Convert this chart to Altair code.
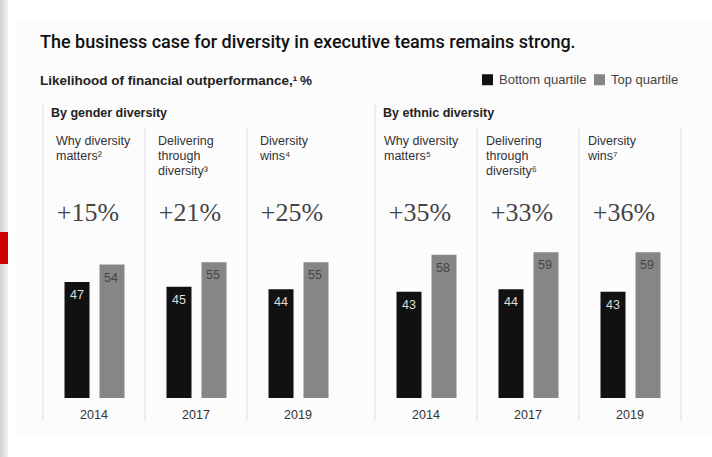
import altair as alt
import pandas as pd

# ---------------- data ----------------
group_names = ["By gender diversity", "By ethnic diversity"]
panel_group = [0, 0, 0, 1, 1, 1]
studies = [
    "Why diversity\nmatters²",
    "Delivering\nthrough\ndiversity³",
    "Diversity\nwins⁴",
    "Why diversity\nmatters⁵",
    "Delivering\nthrough\ndiversity⁶",
    "Diversity\nwins⁷",
]
years = ["2014", "2017", "2019", "2014", "2017", "2019"]
bottom_quartile = [47, 45, 44, 43, 44, 43]
top_quartile = [54, 55, 55, 58, 59, 59]
uplift = ["+15%", "+21%", "+25%", "+35%", "+33%", "+36%"]
series = ["Bottom quartile", "Top quartile"]

title = "The business case for diversity in executive teams remains strong."
subtitle = "Likelihood of financial outperformance,¹\u2009%"

# ---------------- layout helpers (panel units) ----------------
W, H = 712, 457
PANEL_PX = 102.0
LEFT_PX = 43.0
group_start = [0.0, (375.0 - LEFT_PX) / PANEL_PX]

SANS = "Liberation Sans"
SERIF = "Liberation Serif"

rows = []
for i in range(6):
    g = panel_group[i]
    k = i % 3
    left = group_start[g] + k
    rows.append(dict(panel=i, group=group_names[g], g=g, study=studies[i], year=years[i],
                     uplift=uplift[i], left=left, center=left + 0.5,
                     bottom=bottom_quartile[i], top=top_quartile[i]))
panels = pd.DataFrame(rows)

bars = pd.DataFrame(
    [dict(center=r["center"], g=r["g"], quartile=series[0], value=r["bottom"]) for r in rows]
    + [dict(center=r["center"], g=r["g"], quartile=series[1], value=r["top"]) for r in rows]
)

# panel edges: group lines (tall) and dividers
edges = []
for g in range(2):
    edges.append(dict(x=group_start[g], kind="group"))
for r in rows:
    if r["panel"] % 3 != 0:
        edges.append(dict(x=r["left"], kind="div"))
edges.append(dict(x=group_start[1] + 3, kind="div"))
edges = pd.DataFrame(edges)

groups_df = pd.DataFrame(dict(x=group_start, name=group_names))

xscale = alt.Scale(domain=[-LEFT_PX / PANEL_PX, (W - LEFT_PX) / PANEL_PX], range=[0, W],
                   nice=False, zero=False, padding=0)
yscale = alt.Scale(domain=[0, 100], range=[398, 151], nice=False, zero=True, padding=0)

one = pd.DataFrame({"a": [0]})


def X(field):
    return alt.X(field, type="quantitative", scale=xscale, axis=None)


def Y(field):
    return alt.Y(field, type="quantitative", scale=yscale, axis=None)


card = alt.Chart(one).mark_rect(color="#fcfcfc").encode(
    x=alt.value(17), x2=alt.value(W), y=alt.value(21), y2=alt.value(437))

shadow = alt.Chart(one).mark_rect(
    color=alt.LinearGradient(gradient="linear", x1=0, x2=1, y1=0, y2=0,
                             stops=[alt.GradientStop(color="#cfcfcf", offset=0),
                                    alt.GradientStop(color="#f2f2f2", offset=1)])
).encode(x=alt.value(0), x2=alt.value(8), y=alt.value(0), y2=alt.value(H))

red = alt.Chart(one).mark_rect(color="#cc0000").encode(
    x=alt.value(0), x2=alt.value(8), y=alt.value(232), y2=alt.value(264))

group_lines = alt.Chart(edges).transform_filter("datum.kind == 'group'").mark_rule(
    color="#dddddd", strokeWidth=1).encode(x=X("x"), y=alt.value(105), y2=alt.value(421))
div_lines = alt.Chart(edges).transform_filter("datum.kind == 'div'").mark_rule(
    color="#dddddd", strokeWidth=1).encode(x=X("x"), y=alt.value(127), y2=alt.value(421))

color = alt.Color("quartile:N",
                  scale=alt.Scale(domain=series, range=["#111111", "#868686"]),
                  legend=alt.Legend(orient="none", legendX=481, legendY=73, direction="horizontal",
                                    title=None, symbolType="square", symbolSize=121,
                                    symbolStrokeWidth=0, labelFont=SANS, labelFontSize=13,
                                    labelColor="#444444", labelOffset=5, columnPadding=6))

bar_bottom = alt.Chart(bars).transform_filter(f"datum.quartile == '{series[0]}'").mark_bar(
    size=25, xOffset=-17).encode(x=X("center"), y=Y("value"), color=color)
bar_top = alt.Chart(bars).transform_filter(f"datum.quartile == '{series[1]}'").mark_bar(
    size=25, xOffset=18).encode(x=X("center"), y=Y("value"), color=color)

lab_bottom = alt.Chart(bars).transform_filter(f"datum.quartile == '{series[0]}'").mark_text(
    dx=-17, dy=17, font=SANS, fontSize=12.5, color="#dddddd", baseline="alphabetic").encode(
    x=X("center"), y=Y("value"), text="value:Q")
lab_top = alt.Chart(bars).transform_filter(f"datum.quartile == '{series[1]}'").mark_text(
    dx=17, dy=17, font=SANS, fontSize=12.5, color="#444444", baseline="alphabetic").encode(
    x=X("center"), y=Y("value"), text="value:Q")

study_g = alt.Chart(panels).transform_filter("datum.g == 0").mark_text(
    align="left", baseline="alphabetic", dx=13, font=SANS, fontSize=12.5, color="#333333",
    lineBreak="\n", lineHeight=15).encode(x=X("left"), y=alt.value(145), text="study:N")
study_e = alt.Chart(panels).transform_filter("datum.g == 1").mark_text(
    align="left", baseline="alphabetic", dx=9, font=SANS, fontSize=12.5, color="#333333",
    lineBreak="\n", lineHeight=15).encode(x=X("left"), y=alt.value(145), text="study:N")

pct = alt.Chart(panels).mark_text(
    align="center", baseline="alphabetic", dx=-6, font=SERIF, fontSize=26, color="#444444").encode(
    x=X("center"), y=alt.value(221), text="uplift:N")

yr = alt.Chart(panels).mark_text(
    align="center", baseline="alphabetic", font=SANS, fontSize=12.5, color="#333333").encode(
    x=X("center"), y=alt.value(419), text="year:N")

grp = alt.Chart(groups_df).mark_text(
    align="left", baseline="alphabetic", dx=8, font=SANS, fontSize=12.5, fontWeight="bold",
    color="#222222").encode(x=X("x"), y=alt.value(117), text="name:N")

title_t = alt.Chart(one).mark_text(
    text=title, align="left", baseline="alphabetic", font="Roboto", fontSize=18, fontWeight=500,
    color="#111111").encode(x=alt.value(40), y=alt.value(48))
sub_t = alt.Chart(one).mark_text(
    text=subtitle, align="left", baseline="alphabetic", font=SANS, fontSize=13.5, fontWeight="bold",
    color="#222222").encode(x=alt.value(40), y=alt.value(85))

chart = alt.layer(
    card, shadow, red, group_lines, div_lines, bar_bottom, bar_top, lab_bottom, lab_top,
    study_g, study_e, pct, yr, grp, title_t, sub_t
).properties(
    width=W, height=H, autosize=alt.AutoSizeParams(type="none"), padding=0, background="white"
).configure_view(stroke=None)

chart.save("out.html", embed_options={"renderer": "svg", "actions": False})
